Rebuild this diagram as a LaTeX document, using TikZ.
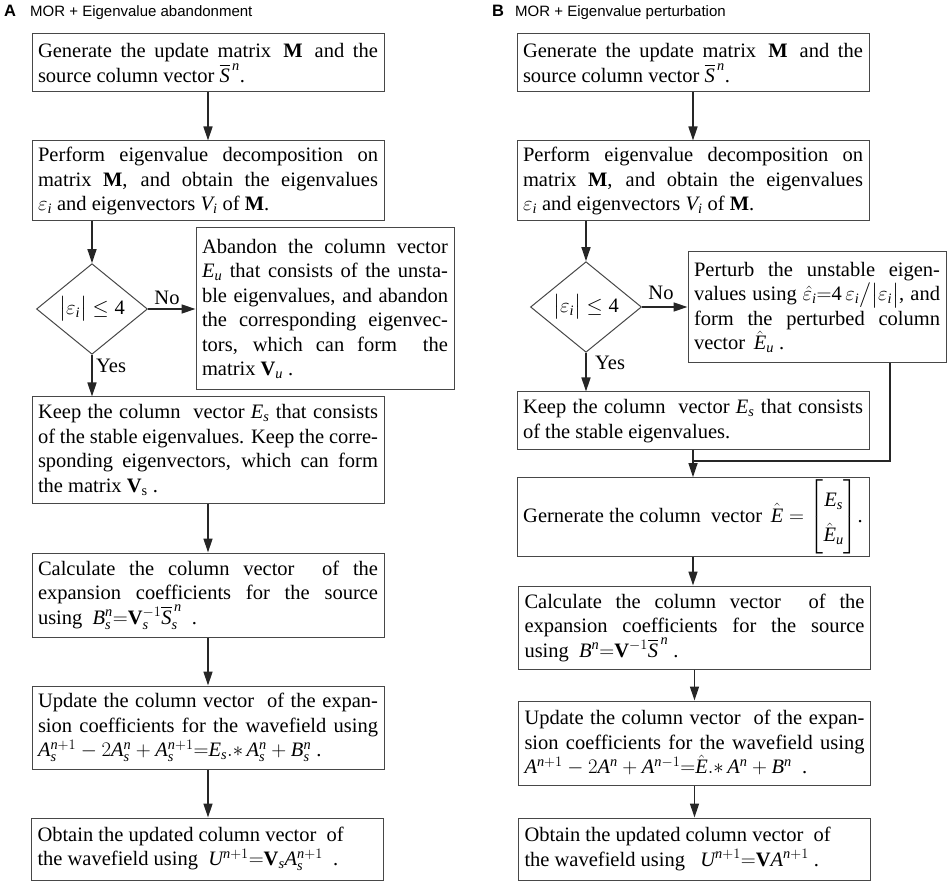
\documentclass[tikz,border=0pt]{standalone}
\usepackage{amsmath}
\usepackage{fontspec}
\setmainfont{Liberation Serif}
\newfontfamily\sansf{Liberation Sans}
\newcommand\mi[1]{\mathit{#1}}
\usetikzlibrary{shapes.geometric,arrows.meta}
\begin{document}
\begin{tikzpicture}[x=1pt,y=-1pt,
  txt/.style={font=\fontsize{20.5}{24.5}\selectfont},
  box/.style={txt,draw=black!72, line width=1pt, rectangle, inner xsep=6pt, inner ysep=2pt,
    text width=340pt, align=justify, minimum width=352pt},
  gbox/.style={txt,draw=black!72, line width=1pt, rectangle, inner sep=2pt, minimum width=352pt},
  sidebox/.style={box, text width=246pt, minimum width=258pt},
  dec/.style={txt,diamond, draw=black!72, line width=1pt, minimum width=111pt, minimum height=78pt, inner sep=0pt},
  lbl/.style={txt, inner sep=0pt},
  conn/.style={draw=black!85, line width=1.4pt},
  arr/.style={conn, -{Triangle[length=14pt,width=9pt]}},
  ttl/.style={font=\sansf\bfseries\fontsize{16.5}{16.5}\selectfont, inner sep=0pt, anchor=base},
  sub/.style={font=\sansf\fontsize{15}{15}\selectfont, inner sep=0pt, anchor=base west}
]
\useasboundingbox (0,0) rectangle (948,882);
% ---------- Panel A ----------
\node[ttl] (tA) at (10,17) {A};
\node[sub] (sA) at (30,16.5) {MOR + Eigenvalue abandonment};
\node[box, minimum height=58pt] (a1) at (208,63)
  {Generate the update matrix \,$\mathbf{M}$\, and the\linebreak source column vector $\overline{\mi{S}}^{\,\mi{n}}$.};
\node[box, minimum height=80pt] (a2) at (208,181)
  {Perform eigenvalue decomposition on\linebreak matrix $\mathbf{M}$, and obtain the eigenvalues\linebreak $\varepsilon_{\mi{i}}$ and eigenvectors $\mi{V}_{\mi{i}}$ of $\mathbf{M}$.};
\node[dec] (ad) at (92,309) {$\big|\varepsilon_{\mi{i}}\big|\le\text{4}$};
\node[sidebox, minimum height=162pt] (aab) at (325,309)
  {Abandon the column vector\linebreak $\mi{E}_{\mi{u}}$ that consists of the unsta-\linebreak ble eigenvalues, and abandon\linebreak the corresponding eigenvec-\linebreak tors, which can form \ the\linebreak matrix $\mathbf{V}_{\mi{u}}$ .};
\node[box, minimum height=106pt] (a3) at (208,450)
  {Keep the column \ vector $\mi{E}_{\mi{s}}$ that consists\linebreak of the stable eigenvalues. Keep the corre-\linebreak sponding eigenvectors, which can form\linebreak the matrix $\mathbf{V}_{\mathrm{s}}$ .};
\node[box, minimum height=84pt] (a4) at (208,595)
  {Calculate the column vector \ of the\linebreak expansion coefficients for the source\linebreak using \ $\mi{B}_{\mi{s}}^{\mi{n}}{=}\mathbf{V}_{\mi{s}}^{-1}\overline{\mi{S}}_{\mi{s}}^{\,\mi{n}}$ \ .};
\node[box, minimum height=83pt] (a5) at (208,727.5)
  {Update the column vector \ of the expan-\linebreak sion coefficients for the wavefield using\linebreak $\mi{A}_{\mi{s}}^{\mi{n}+1}-2\mi{A}_{\mi{s}}^{\mi{n}}+\mi{A}_{\mi{s}}^{\mi{n}+1}{=}\mi{E}_{\mi{s}}.{*}\,\mi{A}_{\mi{s}}^{\mi{n}}+\mi{B}_{\mi{s}}^{\mi{n}}$ .};
\node[box, minimum height=62pt] (a6) at (207.5,849)
  {Obtain the updated column vector \ of\newline the wavefield using \ $\mi{U}^{\mi{n}+1}{=}\mathbf{V}_{\mi{s}}\mi{A}_{\mi{s}}^{\mi{n}+1}$ \ .};
\node[lbl] (aNo) at (167,298) {No};
\node[lbl, anchor=west] (aYes) at (96,366) {Yes};
\draw[arr] (a1) -- (a2);
\draw[arr] (a2.south -| ad.north) -- (ad.north);
\draw[arr] (ad.east) -- (ad.east -| aab.west);
\draw[arr] (ad.south) -- (ad.south |- a3.north);
\draw[arr] (a3) -- (a4);
\draw[arr] (a4) -- (a5);
\draw[arr] (a5.south) -- (a5.south |- a6.north);
% ---------- Panel B ----------
\node[ttl] (tB) at (498,17) {B};
\node[sub] (sB) at (515,16.5) {MOR + Eigenvalue perturbation};
\node[box, minimum height=58pt] (b1) at (693,63)
  {Generate the update matrix \,$\mathbf{M}$\, and the\linebreak source column vector $\overline{\mi{S}}^{\,\mi{n}}$.};
\node[box, minimum height=80pt] (b2) at (693,181)
  {Perform eigenvalue decomposition on\linebreak matrix $\mathbf{M}$, and obtain the eigenvalues\linebreak $\varepsilon_{\mi{i}}$ and eigenvectors $\mi{V}_{\mi{i}}$ of $\mathbf{M}$.};
\node[dec] (bd) at (586,307) {$\big|\varepsilon_{\mi{i}}\big|\le\text{4}$};
\node[sidebox, minimum height=111pt] (bpt) at (817,307.5)
  {Perturb the unstable eigen-\linebreak values using $\hat{\varepsilon}_{\mi{i}}{=}\text{4}\,\varepsilon_{\mi{i}}\big/\big|\varepsilon_{\mi{i}}\big|$, and\linebreak form the perturbed column\linebreak vector \,$\hat{\mi{E}}_{\mi{u}}$ .};
\node[box, minimum height=58pt] (b3) at (693,421)
  {Keep the column \ vector $\mi{E}_{\mi{s}}$ that consists\linebreak of the stable eigenvalues.};
\node[gbox, minimum height=70pt] (b4) at (693,517)
  {Gernerate the column \ vector \,$\hat{\mi{E}}=\renewcommand{\arraystretch}{1.45}\begin{bmatrix} \mi{E}_{\mi{s}}\\ \hat{\mi{E}}_{\mi{u}}\end{bmatrix}$.};
\node[box, minimum height=83pt] (b5) at (694.5,627.5)
  {Calculate the column vector \ of the\linebreak expansion coefficients for the source\linebreak using \ $\mi{B}^{\mi{n}}{=}\mathbf{V}^{-1}\overline{\mi{S}}^{\,\mi{n}}$ .};
\node[box, minimum height=84pt] (b6) at (694.5,743)
  {Update the column vector \ of the expan-\linebreak sion coefficients for the wavefield using\linebreak \,$\mi{A}^{\mi{n}+1}-2\mi{A}^{\mi{n}}+\mi{A}^{\mi{n}-1}{=}\hat{\mi{E}}.{*}\,\mi{A}^{\mi{n}}+\mi{B}^{\mi{n}}$ \ .};
\node[box, minimum height=62pt] (b7) at (694.5,849)
  {Obtain the updated column vector \ of\newline the wavefield using \ \ $\mi{U}^{\mi{n}+1}{=}\mathbf{V}\mi{A}^{\mi{n}+1}$ .};
\node[lbl] (bNo) at (661,293) {No};
\node[lbl, anchor=west] (bYes) at (595,363) {Yes};
\coordinate (bj) at (693,461);
\coordinate (bk) at (890,461);
\draw[arr] (b1) -- (b2);
\draw[arr] (b2.south -| bd.north) -- (bd.north);
\draw[arr] (bd.east) -- (bd.east -| bpt.west);
\draw[arr] (bd.south) -- (bd.south |- b3.north);
\draw[conn] (b3.south) -- (bj);
\draw[conn] (bpt.south -| bk) -- (bk) -- (bj);
\draw[arr] (bj) -- (b4.north);
\draw[arr] (b4.south) -- (b4.south |- b5.north);
\draw[arr] (b5) -- (b6);
\draw[arr] (b6) -- (b7);
\end{tikzpicture}
\end{document}
